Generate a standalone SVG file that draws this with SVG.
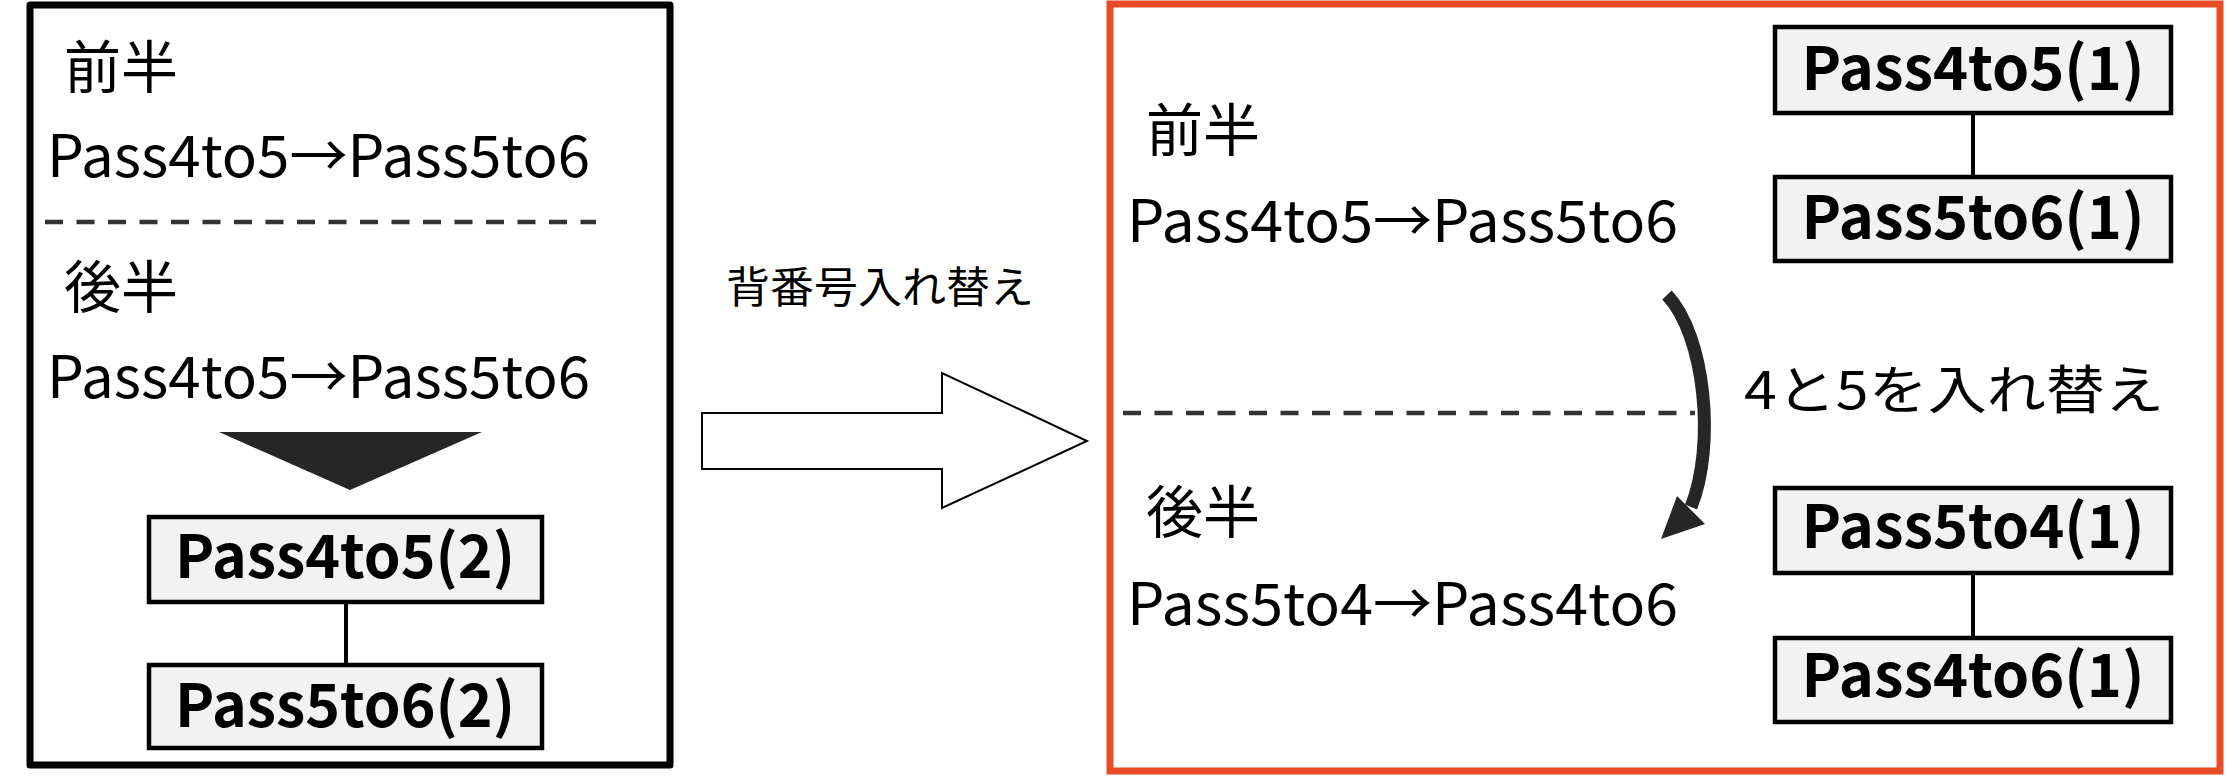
<svg xmlns="http://www.w3.org/2000/svg" width="2232" height="780" viewBox="0 0 2232 780">
<style>
.t{font-family:"Noto Sans CJK JP","Noto Sans",sans-serif;fill:#000}
.h{font-size:57px}
.l{font-size:58px}
.b{font-size:60px;font-weight:bold;text-anchor:middle}
.box{fill:#F2F2F2;stroke:#000;stroke-width:4.5}
.conn{stroke:#000;stroke-width:4;fill:none}
.dash{stroke:#333;stroke-width:4.5;stroke-dasharray:18 13.5;fill:none}
</style>
<rect width="2232" height="780" fill="#fff"/>
<g id="left-panel">
  <rect x="30" y="5" width="640" height="760" fill="none" stroke="#000" stroke-width="7" stroke-linejoin="round"/>
  <text class="t h" x="64" y="88">前半</text>
  <text class="t l" x="47" y="177" textLength="543" lengthAdjust="spacingAndGlyphs">Pass4to5→Pass5to6</text>
  <line class="dash" x1="45" y1="222" x2="596" y2="222"/>
  <text class="t h" x="64" y="308">後半</text>
  <text class="t l" x="47" y="398" textLength="543" lengthAdjust="spacingAndGlyphs">Pass4to5→Pass5to6</text>
  <polygon points="219,432 482,432 350,490" fill="#262626"/>
</g>
<g id="node-left-1">
  <rect class="box" x="149" y="517" width="393" height="85"/>
  <text class="t b" x="345" y="578" textLength="340" lengthAdjust="spacingAndGlyphs">Pass4to5(2)</text>
</g>
<g id="node-left-2">
  <rect class="box" x="149" y="665" width="393" height="83"/>
  <text class="t b" x="345" y="727" textLength="340" lengthAdjust="spacingAndGlyphs">Pass5to6(2)</text>
</g>
<g id="middle">
  <text class="t" x="726" y="303" font-size="43" textLength="308" lengthAdjust="spacingAndGlyphs">背番号入れ替え</text>
  <polygon points="702,413 942,413 942,373 1087,441 942,508 942,469 702,469" fill="#fff" stroke="#000" stroke-width="2"/>
</g>
<g id="right-panel">
  <rect x="1110" y="4" width="1110" height="767" fill="none" stroke="#E84B25" stroke-width="7"/>
  <text class="t h" x="1146" y="151">前半</text>
  <text class="t l" x="1127" y="242" textLength="551" lengthAdjust="spacingAndGlyphs">Pass4to5→Pass5to6</text>
  <line class="dash" x1="1123" y1="413" x2="1695" y2="413"/>
  <text class="t h" x="1146" y="533">後半</text>
  <text class="t l" x="1127" y="625" textLength="551" lengthAdjust="spacingAndGlyphs">Pass5to4→Pass4to6</text>
  <text class="t" x="1744" y="409" font-size="52" textLength="420" lengthAdjust="spacingAndGlyphs">4と5を入れ替え</text>
</g>
<g id="node-right-1">
  <rect class="box" x="1775" y="27" width="396" height="86"/>
  <text class="t b" x="1973" y="90" textLength="343" lengthAdjust="spacingAndGlyphs">Pass4to5(1)</text>
</g>
<g id="node-right-2">
  <rect class="box" x="1775" y="177" width="396" height="84"/>
  <text class="t b" x="1973" y="239" textLength="343" lengthAdjust="spacingAndGlyphs">Pass5to6(1)</text>
</g>
<g id="node-right-3">
  <rect class="box" x="1775" y="488" width="396" height="85"/>
  <text class="t b" x="1973" y="548" textLength="343" lengthAdjust="spacingAndGlyphs">Pass5to4(1)</text>
</g>
<g id="node-right-4">
  <rect class="box" x="1775" y="638" width="396" height="84"/>
  <text class="t b" x="1973" y="697" textLength="343" lengthAdjust="spacingAndGlyphs">Pass4to6(1)</text>
</g>
<g id="connectors">
  <line class="conn" x1="346" y1="602" x2="346" y2="665"/>
  <line class="conn" x1="1973" y1="113" x2="1973" y2="177"/>
  <line class="conn" x1="1973" y1="573" x2="1973" y2="638"/>
  <path d="M1667,295 C1705,335 1716,445 1691,507" fill="none" stroke="#262626" stroke-width="13"/>
  <polygon points="1677,496 1705,524 1661,539" fill="#262626"/>
</g>
</svg>
